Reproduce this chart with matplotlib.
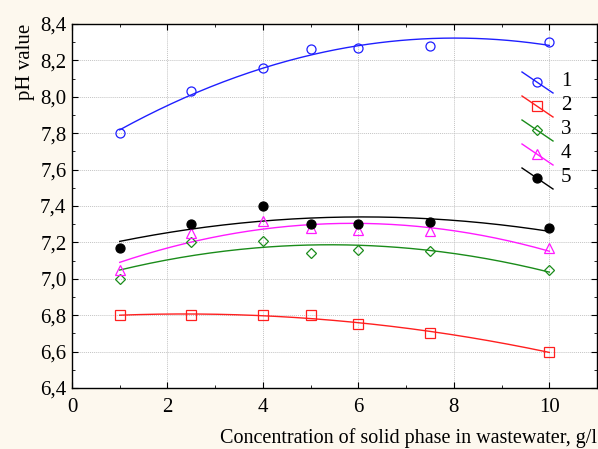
import numpy as np
import matplotlib
matplotlib.use('Agg')
import matplotlib.pyplot as plt
from matplotlib.ticker import MultipleLocator, FuncFormatter

plt.rcParams['font.family'] = ['Liberation Serif', 'DejaVu Serif']

# data
conc = [1, 2.5, 4, 5, 6, 7.5, 10]
ph1 = [7.80, 8.03, 8.16, 8.26, 8.27, 8.28, 8.30]
ph2 = [6.80, 6.80, 6.80, 6.80, 6.75, 6.70, 6.60]
ph3 = [7.00, 7.20, 7.21, 7.14, 7.16, 7.15, 7.05]
ph4 = [7.05, 7.25, 7.32, 7.28, 7.27, 7.26, 7.17]
ph5 = [7.17, 7.30, 7.40, 7.30, 7.30, 7.31, 7.28]
labels = ['1', '2', '3', '4', '5']

series = [ph1, ph2, ph3, ph4, ph5]
colors = ['#1f1fff', '#ff1f1f', '#1a8c1a', '#ff1aff', 'black']
markers = ['o', 's', 'D', '^', 'o']
msizes = [6.5, 6.5, 5, 6.5, 6.5]
mfaces = ['none', 'none', 'none', 'none', 'black']

fig = plt.figure(figsize=(5.98, 4.49), dpi=100)
fig.patch.set_facecolor('#fdf8ee')
ax = fig.add_axes([0.1204, 0.1359, 0.878, 0.8106])
ax.set_facecolor('white')

xs = np.linspace(min(conc), max(conc), 200)
for ys, c, m, ms, mf in zip(series, colors, markers, msizes, mfaces):
    p = np.polyfit(conc, ys, 2)
    ax.plot(xs, np.polyval(p, xs), color=c, lw=1.0, zorder=2)
    ax.plot(conc, ys, ls='none', marker=m, ms=ms, mfc=mf, mec=c, mew=0.9, zorder=3)

ax.set_xlim(0, 11)
ax.set_ylim(6.4, 8.4)
ax.xaxis.set_major_locator(MultipleLocator(2))
ax.xaxis.set_minor_locator(MultipleLocator(1))
ax.yaxis.set_major_locator(MultipleLocator(0.2))
ax.yaxis.set_minor_locator(MultipleLocator(0.1))
ax.yaxis.set_major_formatter(FuncFormatter(lambda v, pos: ('%.1f' % v).replace('.', ',')))
ax.tick_params(which='both', direction='in', top=True, right=True, labelsize=15)
ax.tick_params(which='major', length=4)
ax.tick_params(which='minor', length=2.5)
ax.tick_params(axis='x', pad=7)
ax.tick_params(axis='y', pad=4)
ax.grid(True, which='major', color='#c4c4c4', lw=0.7, ls=(0, (1, 1)))
for s in ax.spines.values():
    s.set_linewidth(1.0)

ax.set_xlabel('Concentration of solid phase in wastewater, g/l', fontsize=14.5, loc='right', labelpad=8)
ax.set_ylabel('pH value', fontsize=15, loc='top', labelpad=4)

# legend with slanted line samples
W, H = 598.0, 449.0
for i, (lab, c, m, ms, mf) in enumerate(zip(labels, colors, markers, msizes, mfaces)):
    yc = 82 + 24 * i
    fig.add_artist(plt.Line2D([522 / W, 553 / W], [1 - (yc - 10) / H, 1 - (yc + 11) / H],
                              color=c, lw=1.0, transform=fig.transFigure))
    fig.add_artist(plt.Line2D([537 / W], [1 - yc / H], ls='none', marker=m, ms=ms, mfc=mf,
                              mec=c, mew=0.9, transform=fig.transFigure))
    fig.text(561 / W, 1 - yc / H, lab, fontsize=15, va='center', ha='left')

fig.savefig('out.png', dpi=100, facecolor=fig.get_facecolor())
